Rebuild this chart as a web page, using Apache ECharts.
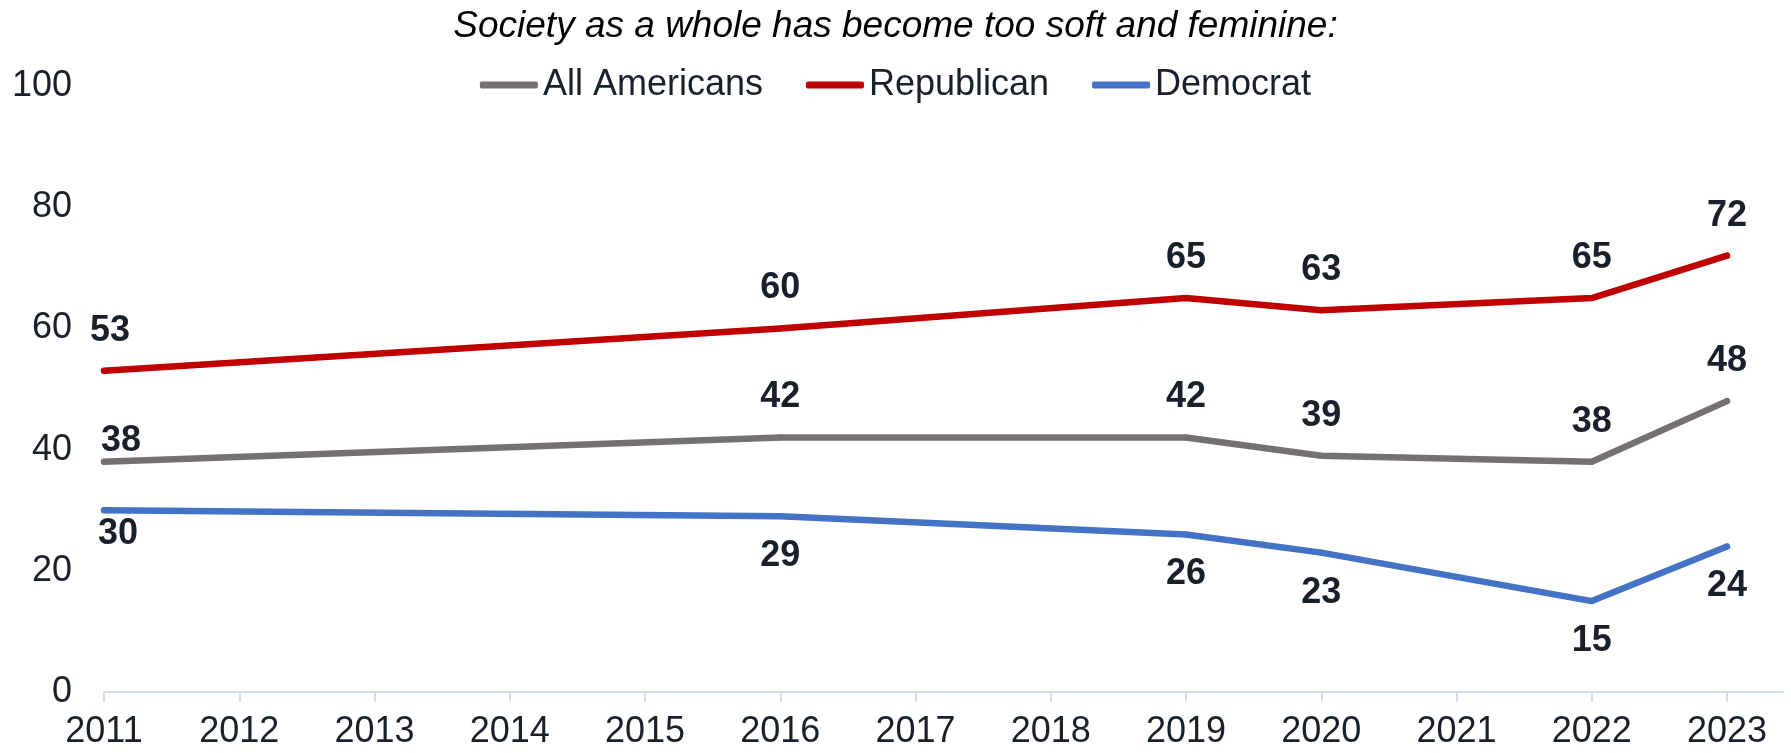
<!DOCTYPE html>
<html>
<head>
<meta charset="utf-8">
<title>Society as a whole has become too soft and feminine</title>
<script src="https://cdn.jsdelivr.net/npm/echarts@6/dist/echarts.min.js"></script>
<style>
  html, body { margin: 0; padding: 0; background: #fff; }
  #main { width: 1791px; height: 753px; }
</style>
</head>
<body>
<div id="main"></div>
<script>
// tick labels on the x axis
var yearTicks = [2011, 2012, 2013, 2014, 2015, 2016, 2017, 2018, 2019, 2020, 2021, 2022, 2023];
// years the question was asked
var surveyYears = [2011, 2016, 2019, 2020, 2022, 2023];
var allAmericans = [38, 42, 42, 39, 38, 48];
var republican = [53, 60, 65, 63, 65, 72];
var democrat = [30, 29, 26, 23, 15, 24];

var font = "'Liberation Sans', Arial, sans-serif";
var textColor = "#18202c";

function pairs(values, firstOffset) {
  return values.map(function (v, i) {
    var item = { value: [surveyYears[i], v] };
    if (i === 0) item.label = { offset: firstOffset };
    return item;
  });
}

function lineSeries(name, color, values, pos, firstOffset) {
  return {
    name: name,
    type: "line",
    data: pairs(values, firstOffset),
    // tiny symbol in the line colour so the labels get drawn
    symbol: "circle",
    symbolSize: 6,
    showSymbol: true,
    showAllSymbol: true,
    lineStyle: { color: color, width: 6.5, cap: "round", join: "round" },
    itemStyle: { color: color, borderWidth: 0 },
    label: {
      show: true,
      position: pos,
      distance: 19,
      fontFamily: font,
      fontSize: 36,
      fontWeight: "bold",
      color: textColor,
      formatter: function (p) { return p.value[1]; }
    },
    emphasis: { disabled: true }
  };
}

var myChart = echarts.init(document.getElementById("main"));
myChart.setOption({
  animation: false,
  title: {
    text: "Society as a whole has become too soft and feminine:",
    left: "center",
    top: 3,
    textStyle: {
      fontFamily: font,
      fontSize: 37,
      fontStyle: "italic",
      fontWeight: "normal",
      color: "#000"
    }
  },
  legend: {
    top: 62,
    left: "center",
    icon: "roundRect",
    itemWidth: 58,
    itemHeight: 7,
    itemGap: 43,
    textStyle: { fontFamily: font, fontSize: 36, color: textColor },
    data: ["All Americans", "Republican", "Democrat"]
  },
  grid: { left: 104, right: 8, top: 86, bottom: 61 },
  xAxis: {
    type: "value",
    min: 2011,
    max: 2023.414,
    interval: 1,
    splitLine: { show: false },
    axisLine: { show: true, lineStyle: { color: "#d3dde8", width: 2 } },
    axisTick: { show: true, length: 10, customValues: yearTicks, lineStyle: { color: "#d3dde8", width: 2 } },
    axisLabel: {
      customValues: yearTicks,
      margin: 22,
      fontFamily: font,
      fontSize: 36,
      color: textColor,
      formatter: function (v) { return String(v); }
    }
  },
  yAxis: {
    type: "value",
    min: 0,
    max: 100,
    interval: 20,
    splitLine: { show: false },
    axisLine: { show: false },
    axisTick: { show: false },
    axisLabel: { margin: 32, fontFamily: font, fontSize: 36, color: textColor }
  },
  series: [
    lineSeries("All Americans", "#767171", allAmericans, "top", [17, 19]),
    lineSeries("Republican", "#c00000", republican, "top", [6, 0]),
    lineSeries("Democrat", "#4472c4", democrat, "bottom", [14, -16])
  ]
});
</script>
</body>
</html>
